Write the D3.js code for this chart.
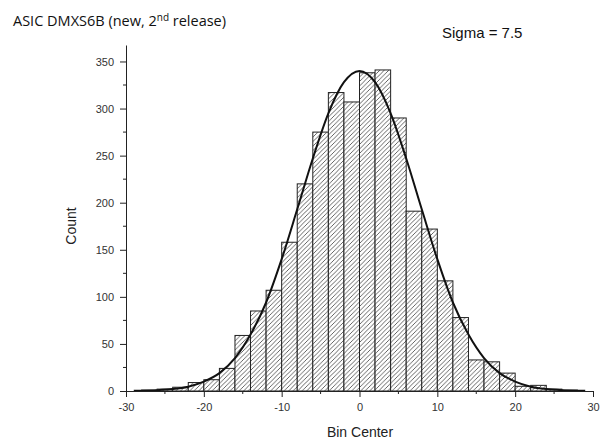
<!DOCTYPE html>
<html>
<head>
<meta charset="utf-8">
<script src="https://cdn.jsdelivr.net/npm/d3@7"></script>
<style>
    body { margin: 0; background: #fff; }
    svg { display: block; }
    .tick text { font-family: "Liberation Sans", Arial, sans-serif; font-size: 11px; fill: #333; }
</style>
</head>
<body>
<div id="chart"></div>
<script>
// histogram bins (2 units wide), counts
const binCenters = [-29, -27, -25, -23, -21, -19, -17, -15, -13, -11, -9, -7, -5, -3, -1,
    1, 3, 5, 7, 9, 11, 13, 15, 17, 19, 21, 23, 25, 27, 29];
const binCounts = [0, 1, 2, 4, 9, 12, 24, 59, 85, 107, 158, 220, 275, 317, 307,
    338, 341, 290, 191, 172, 117, 78, 33, 31, 19, 5, 6, 2, 1, 0];
const binWidth = 2;

// fitted curve
const fitX = [-29, -28, -26, -24, -22, -20, -18, -16, -14, -12, -10, -8, -6, -4, -2, 0,
    2, 4, 6, 8, 10, 12, 14, 16, 18, 20, 22, 24, 26, 28, 29];
const fitY = [0.2, 0.3, 0.8, 2, 4.6, 10, 19, 35, 60, 94, 140, 193, 247, 295, 328, 340,
    328, 295, 247, 193, 140, 94, 60, 35, 19, 10, 4.6, 2, 0.8, 0.3, 0.2];

const xTicks = [-30, -20, -10, 0, 10, 20, 30];
const yTicks = [0, 50, 100, 150, 200, 250, 300, 350];

const width = 611, height = 439;
const plotLeft = 126, plotRight = 593, plotBottom = 391, plotTop = 45;

const svg = d3.select('#chart')
    .append('svg')
    .attr('width', width)
    .attr('height', height);

const x = d3.scaleLinear().domain([-30, 30]).range([plotLeft, plotRight]);
const y = d3.scaleLinear().domain([0, 367.5]).range([plotBottom, plotTop]);

// hatch fill
const pat = svg.append('defs')
    .append('pattern')
    .attr('id', 'hatch')
    .attr('patternUnits', 'userSpaceOnUse')
    .attr('width', 4.5)
    .attr('height', 4.5);
pat.append('rect').attr('width', 4.5).attr('height', 4.5).attr('fill', '#fff');
pat.append('path')
    .attr('d', 'M-1,1 L1,-1 M0,4.5 L4.5,0 M3.5,5.5 L5.5,3.5')
    .attr('stroke', '#555')
    .attr('stroke-width', 0.9);

const bins = binCenters.map((c, i) => ({ c, n: binCounts[i] }));

svg.append('g')
    .selectAll('rect')
    .data(bins.filter(d => d.n > 0))
    .enter()
    .append('rect')
    .attr('x', d => x(d.c - binWidth / 2))
    .attr('y', d => y(d.n))
    .attr('width', d => x(d.c + binWidth / 2) - x(d.c - binWidth / 2))
    .attr('height', d => y(0) - y(d.n))
    .attr('fill', 'url(#hatch)')
    .attr('stroke', '#222')
    .attr('stroke-width', 1);

// fit line
const line = d3.line()
    .x(d => x(d[0]))
    .y(d => y(d[1]))
    .curve(d3.curveMonotoneX);

svg.append('path')
    .datum(fitX.map((v, i) => [v, fitY[i]]))
    .attr('d', line)
    .attr('fill', 'none')
    .attr('stroke', '#111')
    .attr('stroke-width', 2);

// axes (plain hyphen minus like the original)
const fmt = d => String(d);

const xAxis = svg.append('g')
    .attr('transform', `translate(0,${plotBottom})`)
    .call(d3.axisBottom(x).tickValues(xTicks).tickFormat(fmt).tickSize(6).tickPadding(6).tickSizeOuter(0));
xAxis.append('g')
    .selectAll('line')
    .data([-25, -15, -5, 5, 15, 25])
    .enter()
    .append('line')
    .attr('x1', d => x(d)).attr('x2', d => x(d))
    .attr('y1', 0).attr('y2', 3)
    .attr('stroke', '#222');

const yAxis = svg.append('g')
    .attr('transform', `translate(${plotLeft},0)`)
    .call(d3.axisLeft(y).tickValues(yTicks).tickFormat(fmt).tickSize(6).tickPadding(6).tickSizeOuter(0));
yAxis.append('g')
    .selectAll('line')
    .data([25, 75, 125, 175, 225, 275, 325])
    .enter()
    .append('line')
    .attr('x1', 0).attr('x2', -3)
    .attr('y1', d => y(d)).attr('y2', d => y(d))
    .attr('stroke', '#222');

svg.selectAll('.domain, .tick line').attr('stroke', '#222');

// labels
svg.append('text')
    .attr('transform', 'translate(76,226) rotate(-90)')
    .attr('text-anchor', 'middle')
    .attr('font-family', '"Liberation Sans", Arial, sans-serif')
    .attr('font-size', 14)
    .attr('fill', '#222')
    .text('Count');

svg.append('text')
    .attr('x', 360)
    .attr('y', 437)
    .attr('text-anchor', 'middle')
    .attr('font-family', '"Liberation Sans", Arial, sans-serif')
    .attr('font-size', 14)
    .attr('fill', '#222')
    .text('Bin Center');

svg.append('text')
    .attr('x', 442)
    .attr('y', 38)
    .attr('font-family', '"Liberation Sans", Arial, sans-serif')
    .attr('font-size', 15)
    .attr('fill', '#111')
    .text('Sigma = 7.5');

const title = svg.append('text')
    .attr('x', 13)
    .attr('y', 26)
    .attr('font-family', '"Open Sans", sans-serif')
    .attr('font-size', 14.5)
    .attr('fill', '#111');
title.append('tspan').text('ASIC DMXS6B (new, 2');
title.append('tspan').attr('dy', -5).attr('font-size', 10).text('nd');
title.append('tspan').attr('dy', 5).text(' release)');
</script>
</body>
</html>
